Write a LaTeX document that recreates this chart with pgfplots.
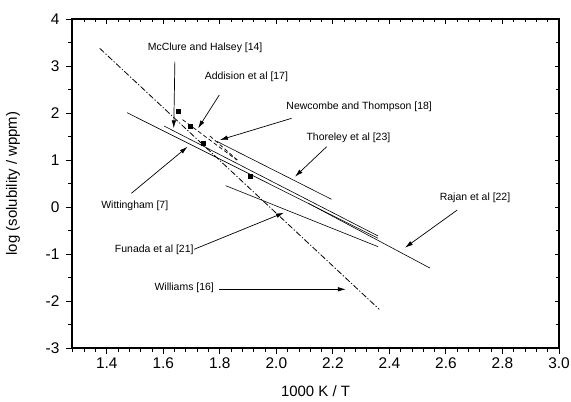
\documentclass[border=0pt]{standalone}
\usepackage{fontspec}
\setmainfont{Liberation Sans}
\setsansfont{Liberation Sans}
\usepackage{pgfplots}
\pgfplotsset{compat=1.18}
\usetikzlibrary{arrows.meta, calc}

\tikzset{
  lbl/.style={font=\fontsize{10.5}{12}\selectfont, inner sep=0pt},
  arr/.style={line width=0.7bp, -{Latex[length=8bp, width=4.5bp]}},
  fit/.style={black, line width=0.6bp, mark=none},
}

\begin{document}
\begin{tikzpicture}
\pgfplotsset{
  common/.style={
    width=487bp, height=329bp, scale only axis,
    xmin=1.277, xmax=3.0, ymin=-3, ymax=4,
    xtick={1.4,1.6,1.8,2.0,2.2,2.4,2.6,2.8,3.0},
    ytick={-3,-2,-1,0,1,2,3,4},
    minor xtick={1.28,1.32,...,3.0},
    minor ytick={-2.5,-1.5,...,3.5},
    axis line style={line width=1.3bp},
    tick style={line width=0.9bp, black},
    clip=false,
  },
}
\begin{axis}[common,
  tick align=outside, xtick pos=bottom, ytick pos=left,
  major tick length=6bp, minor tick length=3.5bp,
  ticklabel style={font=\fontsize{15.5}{18}\selectfont},
  /pgf/number format/assume math mode=true,
  xticklabel style={/pgf/number format/.cd, fixed, fixed zerofill, precision=1},
  yticklabel style={xshift=-3bp, /pgf/number format/.cd, fixed, precision=0},
  xlabel={1000 K / T},
  ylabel={log (solubility / wppm)},
  label style={font=\fontsize{15}{18}\selectfont},
  xlabel style={yshift=-10bp},
  ylabel style={yshift=19bp},
]
% Williams [16]
\addplot[fit, dash pattern=on 6bp off 2bp on 1.2bp off 2bp, line width=0.8bp]
  coordinates {(1.375,3.376) (2.364,-2.177)};
% Wittingham [7]
\addplot[fit] coordinates {(1.472,2.006) (2.360,-0.666)};
% second near-parallel line
\addplot[fit] coordinates {(1.603,1.723) (2.360,-0.617)};
% Rajan et al [22]
\addplot[fit] coordinates {(2.113,0.079) (2.543,-1.298)};
% Funada et al [21]
\addplot[fit] coordinates {(1.821,0.453) (2.360,-0.845)};
% Thoreley et al [23]
\addplot[fit] coordinates {(1.790,1.395) (2.195,0.164)};
% Newcombe and Thompson [18]
\addplot[fit, dash pattern=on 4bp off 2.5bp, line width=0.7bp]
  coordinates {(1.765,1.511) (1.865,0.985)};
% Addision et al [17]
\addplot[fit, dash pattern=on 4bp off 2.5bp, line width=0.7bp]
  coordinates {(1.668,1.860) (1.860,1.000)};
% McClure and Halsey [14]
\addplot[only marks, mark=square*, mark size=2bp, black]
  coordinates {(1.652,2.028) (1.696,1.723) (1.741,1.355) (1.906,0.645)};

\node[lbl] at (axis cs:1.748,3.390) {McClure and Halsey [14]};
\node[lbl] at (axis cs:1.894,2.773) {Addision et al [17]};
\node[lbl] at (axis cs:2.293,2.134) {Newcombe and Thompson [18]};
\node[lbl] at (axis cs:2.255,1.462) {Thoreley et al [23]};
\node[lbl] at (axis cs:1.499,0.021) {Wittingham [7]};
\node[lbl] at (axis cs:1.568,-0.900) {Funada et al [21]};
\node[lbl] at (axis cs:2.703,0.206) {Rajan et al [22]};
\node[lbl] at (axis cs:1.674,-1.709) {Williams [16]};

\draw[arr] (axis cs:1.641,3.092) -- (axis cs:1.637,1.674);
\draw[arr] (axis cs:1.798,2.383) -- (axis cs:1.723,1.674);
\draw[arr] (axis cs:2.054,1.887) -- (axis cs:1.800,1.426);
\draw[arr] (axis cs:2.178,1.283) -- (axis cs:2.066,0.645);
\draw[arr] (axis cs:1.487,0.291) -- (axis cs:1.686,1.283);
\draw[arr] (axis cs:1.709,-0.900) -- (axis cs:2.027,-0.121);
\draw[arr] (axis cs:2.640,-0.064) -- (axis cs:2.455,-0.866);
\draw[arr] (axis cs:1.798,-1.751) -- (axis cs:2.246,-1.751);

\coordinate (bl) at (rel axis cs:0,0);
\coordinate (tr) at (rel axis cs:1,1);
\end{axis}
\begin{axis}[common,
  tick align=inside, xtick pos=upper, ytick pos=right,
  major tick length=4.5bp, minor tick length=3bp,
  xticklabels={}, yticklabels={},
]
\end{axis}
\pgfresetboundingbox
\path[use as bounding box] ($(bl)+(-72bp,-54bp)$) rectangle ($(tr)+(12bp,19bp)$);
\end{tikzpicture}
\end{document}
